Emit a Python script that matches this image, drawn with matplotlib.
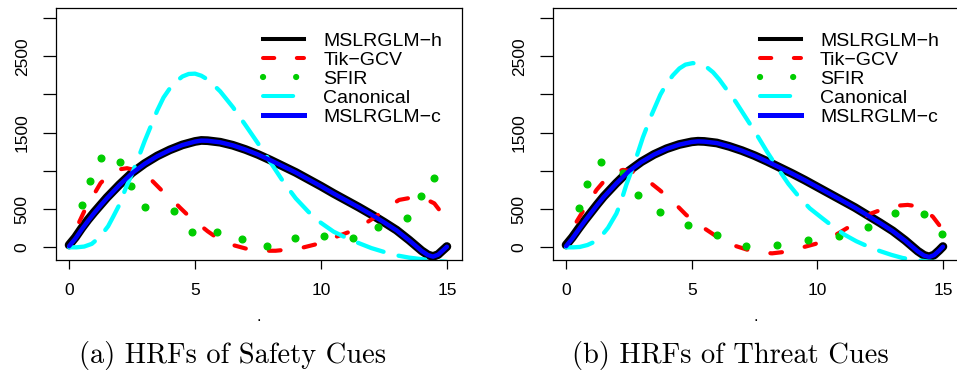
import matplotlib.pyplot as plt
from matplotlib.lines import Line2D

plt.rcParams['font.family'] = ['Liberation Sans', 'DejaVu Sans']

# ---------------- (a) safety cues ----------------
t_h_a = [0.0, 0.25, 0.5, 0.75, 1.0, 1.25, 1.5, 2.0, 2.5, 3.0, 3.5, 4.0, 4.5, 5.0, 5.25, 5.5,
         6.0, 6.5, 7.0, 7.5, 8.0, 8.5, 9.0, 9.5, 10.0, 10.5, 11.0, 11.5, 12.0, 12.5, 13.0,
         13.5, 13.75, 14.0, 14.25, 14.45, 14.65, 14.85, 15.0]
v_h_a = [30, 130, 250, 360, 460, 555, 650, 820, 975, 1095, 1195, 1275, 1340, 1385, 1398, 1395,
         1375, 1335, 1280, 1215, 1140, 1060, 980, 890, 800, 705, 615, 525, 430, 330, 225,
         95, 25, -45, -100, -120, -95, -35, 10]
v_c_a = [15, 115, 235, 345, 450, 548, 642, 815, 970, 1092, 1192, 1272, 1338, 1383, 1396, 1394,
         1374, 1334, 1279, 1214, 1139, 1059, 979, 889, 799, 704, 614, 523, 428, 328, 222,
         92, 22, -48, -102, -122, -97, -38, 8]
t_tik_a = [0.4, 0.72, 1.0, 1.25, 1.65, 2.0, 2.3, 2.6, 2.83, 3.3, 3.75, 4.1, 4.4, 4.7, 5.2,
           5.5, 5.9, 6.5, 7.0, 7.57, 8.2, 9.14, 9.93, 10.7, 11.4, 12.17, 12.6, 13.1, 13.6,
           14.1, 14.5, 15.0]
v_tik_a = [330, 555, 700, 840, 970, 1020, 1035, 1010, 970, 870, 720, 620, 520, 425, 290,
           210, 118, 30, -15, -45, -45, -15, 50, 150, 235, 400, 510, 620, 650,
           640, 575, 360]
t_sfir_a = [0.5, 0.82, 1.25, 2.04, 2.47, 3.03, 4.16, 4.86, 5.86, 6.86, 7.86, 8.95, 10.13,
            11.29, 12.26, 13.42, 13.99, 14.47]
v_sfir_a = [555, 870, 1170, 1113, 808, 524, 472, 201, 197, 114, 22, 127, 149,
            118, 262, 380, 673, 913]
t_can_a = [0.0, 0.3, 0.6, 0.9, 1.15, 1.35, 1.55, 1.75, 2.0, 2.25, 2.5, 2.75, 3.0, 3.25, 3.5,
           3.75, 4.0, 4.25, 4.5, 4.75, 5.0, 5.25, 5.5, 5.75, 6.0, 6.5, 7.0, 7.5, 8.0, 8.5,
           9.0, 9.5, 10.0, 10.5, 11.0, 11.5, 12.0, 12.5, 13.0, 13.5, 14.0, 14.5, 15.0]
v_can_a = [0, 0, 10, 45, 115, 190, 276, 400, 560, 775, 965, 1170, 1390, 1590, 1790,
           1960, 2080, 2170, 2235, 2268, 2272, 2245, 2195, 2120, 2040, 1835, 1600, 1360, 1110, 860,
           640, 465, 320, 205, 125, 55, -10, -60, -105, -135, -155, -175, -190]

# ---------------- (b) threat cues ----------------
t_h_b = [0.0, 0.25, 0.5, 0.75, 1.0, 1.25, 1.5, 2.0, 2.5, 3.0, 3.5, 4.0, 4.5, 5.0, 5.25, 5.5,
         6.0, 6.5, 7.0, 7.5, 8.0, 8.5, 9.0, 9.5, 10.0, 10.5, 11.0, 11.5, 12.0, 12.5, 13.0,
         13.5, 13.75, 14.0, 14.25, 14.45, 14.65, 14.85, 15.0]
v_h_b = [30, 130, 245, 355, 460, 565, 665, 840, 1000, 1120, 1215, 1290, 1345, 1380, 1388, 1385,
         1365, 1320, 1265, 1200, 1125, 1045, 965, 880, 790, 700, 610, 520, 420, 320, 215,
         90, 20, -50, -105, -125, -100, -40, 10]
v_c_b = [15, 117, 232, 345, 452, 558, 658, 835, 996, 1117, 1213, 1288, 1343, 1378, 1386, 1383,
         1364, 1319, 1264, 1199, 1124, 1044, 964, 879, 789, 699, 609, 518, 418, 318, 212,
         87, 17, -53, -108, -127, -102, -43, 8]
t_tik_b = [0.42, 0.75, 1.0, 1.21, 1.6, 1.9, 2.27, 2.6, 2.93, 3.3, 3.72, 4.25, 4.78, 5.3,
           6.1, 6.75, 7.2, 7.55, 8.2, 8.7, 9.13, 9.92, 10.4, 10.84, 11.5, 12.16, 12.82, 13.2,
           13.6, 14.0, 14.27, 14.6, 15.0]
v_tik_b = [336, 515, 640, 750, 900, 980, 1013, 995, 950, 860, 750, 600, 424, 293,
           118, 17, -30, -61, -79, -60, -26, 44, 110, 183, 314, 445, 524, 545,
           555, 535, 489, 400, 227]
t_sfir_b = [0.51, 0.84, 1.40, 2.27, 2.88, 3.73, 4.84, 5.99, 7.15, 8.38, 9.62, 10.85, 12.03,
            13.09, 14.23, 14.96]
v_sfir_b = [511, 825, 1113, 974, 686, 459, 297, 162, 22, 31, 96, 148, 271,
            445, 441, 179]
t_can_b = [0.0, 0.3, 0.55, 0.85, 1.15, 1.4, 1.67, 2.0, 2.15, 2.4, 2.75, 3.06, 3.4, 3.75,
           3.98, 4.25, 4.51, 4.75, 5.04, 5.3, 5.57, 5.85, 6.1, 6.4, 6.75, 7.15, 7.55, 8.0,
           8.47, 8.85, 9.26, 9.7, 10.2, 10.65, 11.1, 11.55, 12.03, 12.5, 12.96, 13.4, 13.9,
           14.4, 15.0]
v_can_b = [0, 0, 5, 30, 75, 145, 255, 440, 560, 820, 1130, 1440, 1730, 1995,
           2130, 2250, 2340, 2390, 2410, 2400, 2365, 2290, 2195, 2060, 1905, 1700, 1495, 1250,
           1013, 830, 665, 510, 380, 265, 162, 80, 9, -50, -100, -140, -166,
           -185, -200]

labels = ['MSLRGLM\u2212h', 'Tik\u2212GCV', 'SFIR', 'Canonical', 'MSLRGLM\u2212c']
captions = ['(a) HRFs of Safety Cues', '(b) HRFs of Threat Cues']
y_ticks = [0, 500, 1000, 1500, 2000, 2500, 3000]
y_ticklabels = ['0', '500', '', '1500', '', '2500', '']

GREEN = '#00CD00'
W, H = 957, 371
fig = plt.figure(figsize=(W / 100, H / 100), dpi=100)
ax_a = fig.add_axes([56 / W, 111 / H, 406 / W, 252 / H])
ax_b = fig.add_axes([553 / W, 111 / H, 405 / W, 252 / H])

panels = [
    (ax_a, t_h_a, v_h_a, v_c_a, t_tik_a, v_tik_a, t_sfir_a, v_sfir_a, t_can_a, v_can_a, 0.51),
    (ax_b, t_h_b, v_h_b, v_c_b, t_tik_b, v_tik_b, t_sfir_b, v_sfir_b, t_can_b, v_can_b, 0.511),
]

for ax, th, vh, vc, tt, vt, ts, vs, tc, vcn, lx in panels:
    ax.plot(th, vh, color='black', lw=6.3, solid_capstyle='round', solid_joinstyle='round')
    ax.plot(tt, vt, color='red', lw=3, linestyle=(0, (2.8, 5.6)), dash_capstyle='round')
    ax.plot(ts, vs, linestyle='none', marker='o', ms=4.8, color=GREEN, mec=GREEN)
    ax.plot(tc, vcn, color='cyan', lw=3.1, linestyle=(0, (6.3, 3.6)), dash_capstyle='round')
    ax.plot(th, vc, color='blue', lw=3.2, solid_capstyle='round', solid_joinstyle='round')

    ax.set_xlim(-0.52, 15.6)
    ax.set_ylim(-166, 3131)
    ax.set_xticks([0, 5, 10, 15])
    ax.set_yticks(y_ticks)
    ax.set_yticklabels(y_ticklabels)
    ax.tick_params(axis='x', length=6.2, width=0.9, pad=10.5, labelsize=12.5)
    ax.tick_params(axis='y', length=9.4, width=0.9, pad=9.5, labelsize=12.5, labelrotation=90)
    for lab in ax.get_yticklabels():
        lab.set_va('center')
    for s in ax.spines.values():
        s.set_linewidth(0.9)
    ax.set_xlabel('.', fontsize=12, labelpad=7.8)

    handles = [
        Line2D([], [], color='black', lw=2.9),
        Line2D([], [], color='red', lw=2.9, linestyle=(0, (2.8, 5.6)), dash_capstyle='round'),
        Line2D([], [], color=GREEN, lw=4.5, linestyle=(0, (0.01, 5.29)), dash_capstyle='round'),
        Line2D([], [], color='cyan', lw=2.9, linestyle=(0, (7.5, 3.8)), dash_capstyle='round'),
        Line2D([], [], color='blue', lw=3.6),
    ]
    ax.legend(handles, labels, loc='upper left', bbox_to_anchor=(lx, 0.905),
              frameon=False, fontsize=14, borderpad=0, borderaxespad=0,
              handlelength=2.11, handletextpad=0.98, labelspacing=0.075)

fig.text(233 / W, (H - 363) / H, captions[0], family='cmr10', size=20.5, ha='center', va='baseline')
fig.text(730 / W, (H - 363) / H, captions[1], family='cmr10', size=20.5, ha='center', va='baseline')

fig.savefig('out.png', dpi=100)
